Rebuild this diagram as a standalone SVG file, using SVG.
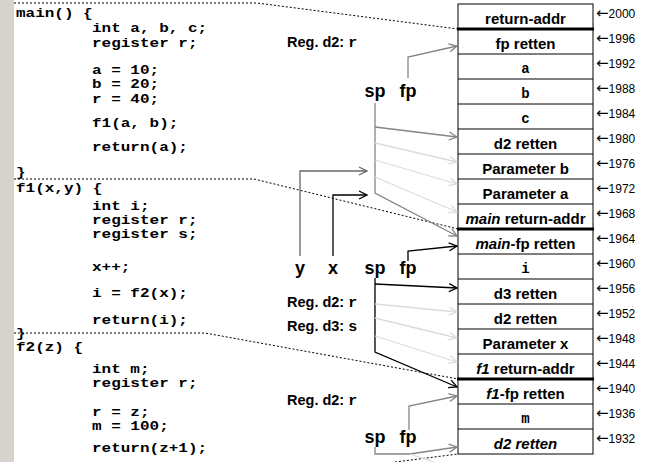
<svg xmlns="http://www.w3.org/2000/svg" width="646" height="462" viewBox="0 0 646 462">
<style>
.code{font-family:"Liberation Mono","Courier New",monospace;font-weight:bold;font-size:13px;fill:#000}
.cell{font-family:"Liberation Sans",Arial,sans-serif;font-weight:bold;font-size:15px;text-anchor:middle;fill:#000}
.cellm{font-family:"Liberation Mono","Courier New",monospace;font-weight:bold;font-size:14px;text-anchor:middle;fill:#000}
.addr{font-family:"Liberation Sans",Arial,sans-serif;font-size:12px;fill:#000}
.arr{font-family:"DejaVu Sans",sans-serif;font-size:15px}
.reg{font-family:"Liberation Sans",Arial,sans-serif;font-weight:bold;font-size:14.5px;fill:#000}
.regm{font-family:"Liberation Mono","Courier New",monospace;font-weight:bold;font-size:15px}
.ptr{font-family:"Liberation Sans",Arial,sans-serif;font-weight:bold;font-size:18px;text-anchor:middle;fill:#000}
.dot{fill:none;stroke:#000;stroke-width:1;stroke-dasharray:2,2}
.gray{fill:none;stroke:#858585;stroke-width:1.3}
.light{fill:none;stroke:#dcdcdc;stroke-width:1.3}
.blk{fill:none;stroke:#000;stroke-width:1.3}
.row{fill:none;stroke:#000;stroke-width:1}
.thick{stroke:#000;stroke-width:3}
</style>
<defs>
<marker id="ag" markerWidth="10" markerHeight="10" refX="9" refY="5" orient="auto" markerUnits="userSpaceOnUse"><path d="M1,1 L9,5 L1,9" fill="none" stroke="#858585" stroke-width="1.3"/></marker>
<marker id="al" markerWidth="10" markerHeight="10" refX="9" refY="5" orient="auto" markerUnits="userSpaceOnUse"><path d="M1,1 L9,5 L1,9" fill="none" stroke="#dcdcdc" stroke-width="1.3"/></marker>
<marker id="ab" markerWidth="10" markerHeight="10" refX="9" refY="5" orient="auto" markerUnits="userSpaceOnUse"><path d="M1,1 L9,5 L1,9" fill="none" stroke="#000" stroke-width="1.3"/></marker>
<marker id="ad" markerWidth="10" markerHeight="10" refX="9" refY="5" orient="auto" markerUnits="userSpaceOnUse"><path d="M1,1 L9,5 L1,9" fill="none" stroke="#666" stroke-width="1.3"/></marker>
</defs>
<rect x="0" y="0" width="646" height="462" fill="#fff"/>
<rect x="0" y="0" width="14" height="462" fill="#d6d2cc"/>

<g id="code-main" transform="scale(1.23,1)">
<text class="code" x="13" y="17">main() {</text>
<text class="code" x="74.8" y="32">int a, b, c;</text>
<text class="code" x="74.8" y="47">register r;</text>
<text class="code" x="74.8" y="74">a = 10;</text>
<text class="code" x="74.8" y="88">b = 20;</text>
<text class="code" x="74.8" y="103">r = 40;</text>
<text class="code" x="74.8" y="127">f1(a, b);</text>
<text class="code" x="74.8" y="151">return(a);</text>
<text class="code" x="13" y="176">}</text>
</g>
<g id="code-f1" transform="scale(1.23,1)">
<text class="code" x="13" y="192">f1(x,y) {</text>
<text class="code" x="74.8" y="210">int i;</text>
<text class="code" x="74.8" y="224">register r;</text>
<text class="code" x="74.8" y="238">register s;</text>
<text class="code" x="74.8" y="271">x++;</text>
<text class="code" x="74.8" y="297">i = f2(x);</text>
<text class="code" x="74.8" y="324">return(i);</text>
<text class="code" x="13" y="337">}</text>
</g>
<g id="code-f2" transform="scale(1.23,1)">
<text class="code" x="13" y="351">f2(z) {</text>
<text class="code" x="74.8" y="373">int m;</text>
<text class="code" x="74.8" y="387">register r;</text>
<text class="code" x="74.8" y="416">r = z;</text>
<text class="code" x="74.8" y="430">m = 100;</text>
<text class="code" x="74.8" y="452">return(z+1);</text>
</g>

<g id="stack">
<rect class="row" x="458" y="4" width="135" height="450"/>
<path class="row" d="M458,54H593M458,79H593M458,104H593M458,129H593M458,154H593M458,179H593M458,204H593M458,254H593M458,279H593M458,304H593M458,329H593M458,354H593M458,404H593M458,429H593"/>
<path class="thick" d="M457,29H594M457,229H594M457,379H594"/>
<g id="cell-2000"><text class="cell" x="525.5" y="24">return-addr</text><text class="addr" x="596" y="18"><tspan class="arr">←</tspan>2000</text></g>
<g id="cell-1996"><text class="cell" x="525.5" y="49">fp retten</text><text class="addr" x="596" y="43"><tspan class="arr">←</tspan>1996</text></g>
<g id="cell-1992"><text class="cellm" x="525.5" y="73">a</text><text class="addr" x="596" y="68"><tspan class="arr">←</tspan>1992</text></g>
<g id="cell-1988"><text class="cellm" x="525.5" y="98">b</text><text class="addr" x="596" y="93"><tspan class="arr">←</tspan>1988</text></g>
<g id="cell-1984"><text class="cellm" x="525.5" y="123">c</text><text class="addr" x="596" y="118"><tspan class="arr">←</tspan>1984</text></g>
<g id="cell-1980"><text class="cell" x="525.5" y="149">d2 retten</text><text class="addr" x="596" y="143"><tspan class="arr">←</tspan>1980</text></g>
<g id="cell-1976"><text class="cell" x="525.5" y="174">Parameter b</text><text class="addr" x="596" y="168"><tspan class="arr">←</tspan>1976</text></g>
<g id="cell-1972"><text class="cell" x="525.5" y="199">Parameter a</text><text class="addr" x="596" y="193"><tspan class="arr">←</tspan>1972</text></g>
<g id="cell-1968"><text class="cell" x="525.5" y="224"><tspan font-style="italic">main</tspan> return-addr</text><text class="addr" x="596" y="218"><tspan class="arr">←</tspan>1968</text></g>
<g id="cell-1964"><text class="cell" x="525.5" y="249"><tspan font-style="italic">main</tspan>-fp retten</text><text class="addr" x="596" y="243"><tspan class="arr">←</tspan>1964</text></g>
<g id="cell-1960"><text class="cellm" x="525.5" y="273">i</text><text class="addr" x="596" y="268"><tspan class="arr">←</tspan>1960</text></g>
<g id="cell-1956"><text class="cell" x="525.5" y="299">d3 retten</text><text class="addr" x="596" y="293"><tspan class="arr">←</tspan>1956</text></g>
<g id="cell-1952"><text class="cell" x="525.5" y="324">d2 retten</text><text class="addr" x="596" y="318"><tspan class="arr">←</tspan>1952</text></g>
<g id="cell-1948"><text class="cell" x="525.5" y="349">Parameter x</text><text class="addr" x="596" y="343"><tspan class="arr">←</tspan>1948</text></g>
<g id="cell-1944"><text class="cell" x="525.5" y="374"><tspan font-style="italic">f1</tspan> return-addr</text><text class="addr" x="596" y="368"><tspan class="arr">←</tspan>1944</text></g>
<g id="cell-1940"><text class="cell" x="525.5" y="399"><tspan font-style="italic">f1</tspan>-fp retten</text><text class="addr" x="596" y="393"><tspan class="arr">←</tspan>1940</text></g>
<g id="cell-1936"><text class="cellm" x="525.5" y="423">m</text><text class="addr" x="596" y="418"><tspan class="arr">←</tspan>1936</text></g>
<g id="cell-1932"><text class="cell" x="525.5" y="449" font-style="italic">d2 retten</text><text class="addr" x="596" y="443"><tspan class="arr">←</tspan>1932</text></g>
</g>

<g id="labels">
<text class="reg" x="287" y="47">Reg. d2: <tspan class="regm">r</tspan></text>
<text class="reg" x="287" y="307">Reg. d2: <tspan class="regm">r</tspan></text>
<text class="reg" x="287" y="331">Reg. d3: <tspan class="regm">s</tspan></text>
<text class="reg" x="287" y="405">Reg. d2: <tspan class="regm">r</tspan></text>
<text class="ptr" x="375" y="97">sp</text>
<text class="ptr" x="408" y="97">fp</text>
<text class="ptr" x="300" y="274">y</text>
<text class="ptr" x="333" y="274">x</text>
<text class="ptr" x="375" y="274">sp</text>
<text class="ptr" x="408" y="274">fp</text>
<text class="ptr" x="375" y="443">sp</text>
<text class="ptr" x="408" y="443">fp</text>
</g>

<g id="connectors">
<polyline class="dot" points="14,3 257,3 458,29"/>
<polyline class="dot" points="14,179 254,179 458,229"/>
<polyline class="dot" points="14,333 205,333 458,379"/>
<polyline class="dot" points="395,462 458,454"/>

<polyline class="gray" points="408,78 408,57 457,46" marker-end="url(#ag)"/>
<polyline class="gray" points="375,103 375,193 457,236" marker-end="url(#ag)"/>
<line class="gray" x1="375" y1="127" x2="457" y2="137" marker-end="url(#ag)"/>
<line class="light" x1="375" y1="143" x2="457" y2="162" marker-end="url(#al)"/>
<line class="light" x1="375" y1="160" x2="457" y2="184" marker-end="url(#al)"/>
<line class="light" x1="375" y1="177" x2="457" y2="212" marker-end="url(#al)"/>

<polyline fill="none" stroke="#666" stroke-width="1.3" points="300,256 300,171 367,171" marker-end="url(#ad)"/>
<polyline class="blk" points="333,256 333,195 367,195" marker-end="url(#ab)"/>

<polyline class="blk" points="408,261 408,251 457,246" marker-end="url(#ab)"/>
<polyline class="blk" points="375,278 375,352 457,387" marker-end="url(#ab)"/>
<line class="blk" x1="375" y1="284" x2="457" y2="288" marker-end="url(#ab)"/>
<line class="light" x1="375" y1="304" x2="457" y2="312" marker-end="url(#al)"/>
<line class="light" x1="375" y1="318" x2="457" y2="338" marker-end="url(#al)"/>
<line class="light" x1="375" y1="336" x2="457" y2="362" marker-end="url(#al)"/>

<polyline class="gray" points="409,430 409,406 457,396" marker-end="url(#ag)"/>
<polyline class="gray" points="375,447 375,454 410,454 457,447" marker-end="url(#ag)"/>
<line class="light" x1="410" y1="454" x2="445" y2="466"/>
</g>
</svg>
